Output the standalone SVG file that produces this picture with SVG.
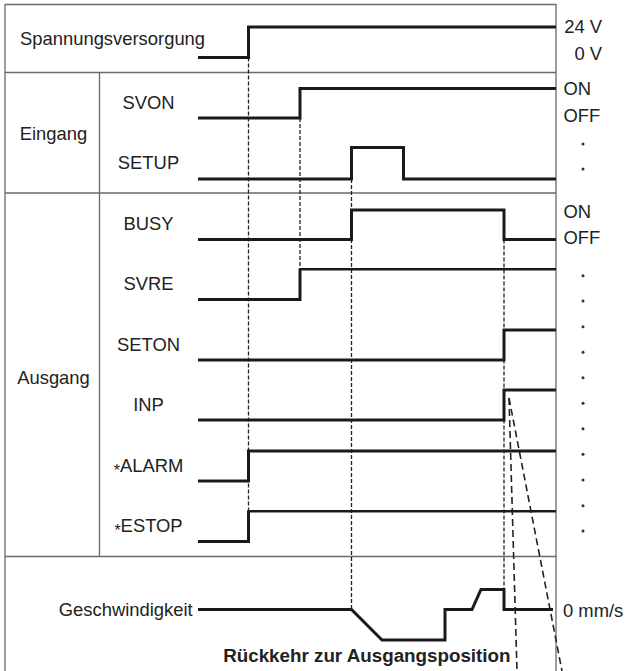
<svg xmlns="http://www.w3.org/2000/svg" width="627" height="671" viewBox="0 0 627 671">
<style>
.frame{fill:none;stroke:#6a6a6a;stroke-width:1.3}
.sig{fill:none;stroke:#1a1a1a;stroke-width:3;stroke-linejoin:miter;stroke-linecap:butt}
.thin{fill:none;stroke:#1a1a1a;stroke-width:2.5}
.dash{fill:none;stroke:#222;stroke-width:1.3;stroke-dasharray:4 2}
.dash2{fill:none;stroke:#222;stroke-width:1.6;stroke-dasharray:7 4}
text{font-family:"Liberation Sans",Arial,Helvetica,sans-serif;font-size:18.4px;fill:#222}
.lbl{text-anchor:middle}
.end{text-anchor:end}
.bold{font-weight:bold;font-size:18.8px}
.ast{font-size:16px}
.dot{fill:#333}
</style>
<g id="frame">
<path class="frame" d="M5 671V4.5H556V671"/>
<path class="frame" d="M5 72.5H556M5 193H556M5 556.5H556M99.5 72.5V556.5"/>
</g>
<g id="connectors">
<path class="dash" d="M248.5 57.5V511"/>
<path class="dash" d="M300 118V269"/>
<path class="dash" d="M351.5 179V609.5"/>
<path class="dash" d="M504 239.5V589.5"/>
<path class="dash2" d="M509 398L517 671"/>
<path class="dash2" d="M509 398L562 671"/>
</g>
<g id="power">
<text x="20" y="45">Spannungsversorgung</text>
<path class="sig" d="M198 57.5H248.5V27H556"/>
<text class="end" x="602" y="33.3">24 V</text>
<text class="end" x="602" y="60">0 V</text>
</g>
<g id="eingang">
<text class="lbl" x="53.5" y="140">Eingang</text>
<text x="563.5" y="95">ON</text>
<text x="563.5" y="121.7">OFF</text>
<circle class="dot" cx="583" cy="144" r="1.5"/>
<circle class="dot" cx="583" cy="169" r="1.5"/>
</g>
<g id="svon">
<text class="lbl" x="148.5" y="109.3">SVON</text>
<path class="sig" d="M198 118H300V88.5H556"/>
</g>
<g id="setup">
<text class="lbl" x="148.5" y="169.3">SETUP</text>
<path class="sig" d="M198 179H351.5V147.5H403.5V179H556"/>
</g>
<g id="ausgang">
<text class="lbl" x="53.5" y="383.5">Ausgang</text>
<text x="563.5" y="217.7">ON</text>
<text x="563.5" y="244.3">OFF</text>
<circle class="dot" cx="583" cy="275.7" r="1.5"/>
<circle class="dot" cx="583" cy="301" r="1.5"/>
<circle class="dot" cx="583" cy="326.7" r="1.5"/>
<circle class="dot" cx="583" cy="352.3" r="1.5"/>
<circle class="dot" cx="583" cy="377.8" r="1.5"/>
<circle class="dot" cx="583" cy="403.3" r="1.5"/>
<circle class="dot" cx="583" cy="428.8" r="1.5"/>
<circle class="dot" cx="583" cy="454.3" r="1.5"/>
<circle class="dot" cx="583" cy="480" r="1.5"/>
<circle class="dot" cx="583" cy="505.7" r="1.5"/>
<circle class="dot" cx="583" cy="531" r="1.5"/>
</g>
<g id="busy">
<text class="lbl" x="148.5" y="229.5">BUSY</text>
<path class="sig" d="M198 239.5H351.5V210H504V239.5H556"/>
</g>
<g id="svre">
<text class="lbl" x="148.5" y="290">SVRE</text>
<path class="sig" d="M198 299.5H300V268.5"/>
<path class="thin" d="M299 269.2H556"/>
</g>
<g id="seton">
<text class="lbl" x="148.5" y="351">SETON</text>
<path class="sig" d="M198 360H504V330H556"/>
</g>
<g id="inp">
<text class="lbl" x="148.5" y="410.7">INP</text>
<path class="sig" d="M198 420H504V390H556"/>
</g>
<g id="alarm">
<text class="lbl" x="148.5" y="472.3"><tspan class="ast" dy="3.7">*</tspan><tspan dy="-3.7">ALARM</tspan></text>
<path class="sig" d="M198 481H248.5V451H556"/>
</g>
<g id="estop">
<text class="lbl" x="148.5" y="532.3"><tspan class="ast" dy="3.7">*</tspan><tspan dy="-3.7">ESTOP</tspan></text>
<path class="sig" d="M198 541.5H248.5V510.5"/>
<path class="thin" d="M247.5 511.2H556"/>
</g>
<g id="speed">
<text class="end" x="192.7" y="615.7">Geschwindigkeit</text>
<path class="sig" d="M198 609.5H351.5L382 640H445V609.5H472L481 589.5H504V609.5H553"/>
<text x="563" y="617">0 mm/s</text>
<text class="bold end" x="510.5" y="662">Rückkehr zur Ausgangsposition</text>
</g>
</svg>
